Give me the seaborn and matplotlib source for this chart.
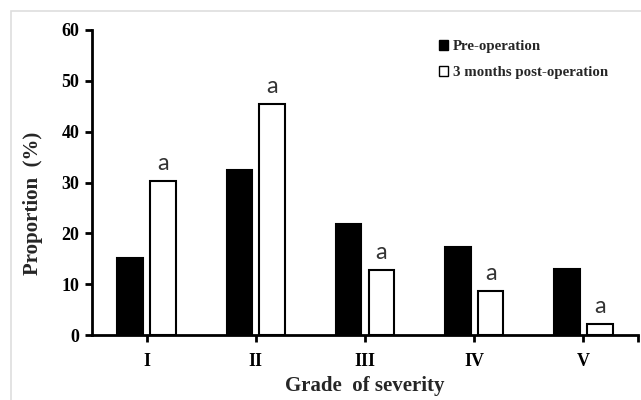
import matplotlib
matplotlib.use("Agg")
import matplotlib.pyplot as plt
from matplotlib.patches import Patch, Rectangle
import pandas as pd
import seaborn as sns

# Severity grades and the share of patients in each (%)
grades = ["I", "II", "III", "IV", "V"]
pre_operation = [15.1, 32.5, 21.8, 17.4, 12.9]
post_operation = [30.3, 45.5, 12.8, 8.7, 2.1]
significance = ["a", "a", "a", "a", "a"]
series_names = ["Pre-operation", "3 months post-operation"]
y_ticks = [0, 10, 20, 30, 40, 50, 60]

df = pd.DataFrame({
    "grade": grades * 2,
    "value": pre_operation + post_operation,
    "period": [series_names[0]] * len(grades) + [series_names[1]] * len(grades),
})

sns.set_theme(style="white")
plt.rcParams["font.family"] = ["Liberation Serif", "DejaVu Serif"]

W, H = 641, 400
fig = plt.figure(figsize=(W / 100, H / 100), dpi=100)
ax = fig.add_axes([92 / W, 1 - 335 / H, (638 - 92) / W, (335 - 30) / H])

sns.barplot(
    data=df, x="grade", y="value", hue="period", order=grades,
    hue_order=series_names, palette=["black", "white"],
    width=0.6, gap=0.22, edgecolor="black", linewidth=1.5,
    legend=False, ax=ax,
)

ax.set_xlim(-0.5, 4.5)
ax.set_ylim(0, 60)
ax.set_yticks(y_ticks)
ax.set_yticklabels([str(t) for t in y_ticks], fontsize=13, fontweight="bold")
ax.set_xticks(range(len(grades)))
ax.set_xticklabels(grades, fontsize=13, fontweight="bold")
ax.set_xticks([4.5], minor=True)

for side in ["top", "right"]:
    ax.spines[side].set_visible(False)
for side in ["left", "bottom"]:
    ax.spines[side].set_linewidth(2)
    ax.spines[side].set_color("black")

ax.tick_params(axis="both", which="both", direction="out", length=5, width=2,
               color="black", labelcolor="black", bottom=True, left=True)
ax.tick_params(axis="x", which="both", pad=8)
ax.tick_params(axis="y", pad=4)

ax.set_xlabel("Grade  of severity", fontsize=15, fontweight="bold", labelpad=4)
ax.set_ylabel("Proportion  (%)", fontsize=15, fontweight="bold")
ax.yaxis.set_label_coords(-0.09, 0.43)

# significance letters above the post-operation bars
post_bars = ax.containers[1]
for bar, val, letter in zip(post_bars, post_operation, significance):
    ax.annotate(letter, (bar.get_x() + bar.get_width() / 2, val),
                xytext=(0, 5), textcoords="offset points",
                ha="center", va="bottom", fontsize=17, family="Lato",
                color="#333333")

handles = [Patch(facecolor="black", edgecolor="black", linewidth=1),
           Patch(facecolor="white", edgecolor="black", linewidth=1)]
ax.legend(handles, series_names, loc="upper left",
          bbox_to_anchor=(432 / W, 1 - 33 / H), bbox_transform=fig.transFigure,
          frameon=False, handlelength=0.6, handleheight=0.6, handletextpad=0.3,
          labelspacing=0.85, borderpad=0,
          prop={"family": "Liberation Serif", "weight": "bold", "size": 10.7})

# thin grey border around the figure
fig.patches.append(Rectangle((11 / W, -0.05), 1.1, 1 - 11 / H + 0.05,
                             transform=fig.transFigure, fill=False,
                             edgecolor="#dedede", linewidth=1.2))

fig.savefig("out.png", dpi=100)
